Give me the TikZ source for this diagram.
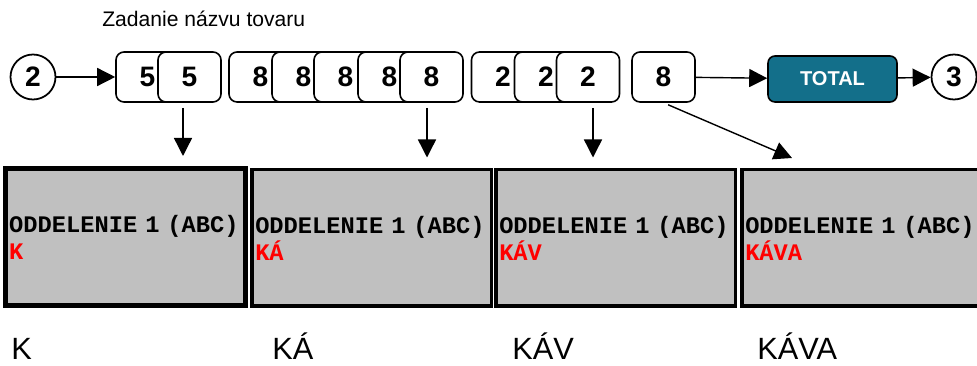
\documentclass[tikz,border=0pt]{standalone}
\usepackage{fontspec}
\setmainfont{Liberation Sans}
\setmonofont{Liberation Mono}
\usetikzlibrary{positioning, arrows.meta}
\definecolor{totalblue}{HTML}{136F8A}
\definecolor{panelgray}{HTML}{C0C0C0}

\begin{document}
\begin{tikzpicture}[x=0.2mm, y=-0.2mm,
	key/.style={draw, line width=0.9pt, rounded corners=0.16cm, fill=white, minimum width=1.26cm, minimum height=1cm, font=\bfseries\fontsize{16}{19}\selectfont},
	pagelink/.style={draw, circle, line width=1pt, fill=white, minimum size=0.9cm, inner sep=0pt, font=\bfseries\fontsize{16}{19}\selectfont},
	display/.style={draw, line width=0.07cm, fill=panelgray, minimum width=4.79cm, minimum height=2.73cm, text width=4.65cm, inner xsep=0.07cm, align=left, font=\ttfamily\bfseries\fontsize{13.5}{15.4}\selectfont},
	word/.style={anchor=base west, inner sep=0pt, font=\fontsize{17.5}{20}\selectfont},
	arr/.style={-{Triangle[length=0.36cm, width=0.36cm]}, line width=0.8pt}]
			\useasboundingbox (0,0) rectangle (977,366);
			\node (title) at (102,27) [anchor=base west, inner sep=0pt, font=\fontsize{12}{14}\selectfont] {Zadanie názvu tovaru};
			
			\node (c2) at (33,77) [pagelink] {2};
			\node (b5a) at (147.5,77) [key] {5};
			\node (b5b) at (189.5,77) [key] {5};
			\node (b8a) at (260.5,77) [key] {8};
			\node (b8b) at (303.5,77) [key] {8};
			\node (b8c) at (345.5,77) [key] {8};
			\node (b8d) at (389.5,77) [key] {8};
			\node (b8e) at (431.5,77) [key] {8};
			\node (b2a) at (503,77) [key] {2};
			\node (b2b) at (546,77) [key] {2};
			\node (b2c) at (588,77) [key] {2};
			\node (b8x) at (663.5,77) [key] {8};
			\node (total) at (832.5,79) [draw, line width=0.9pt, rounded corners=0.14cm, fill=totalblue, minimum width=2.58cm, minimum height=0.92cm, text=white, font=\bfseries\fontsize{11.4}{14}\selectfont] {TOTAL};
			\node (c3) at (954,77) [pagelink] {3};
			
			\node (p1) at (125.5,237) [display, line width=0.09cm] {ODDELENIE 1 (ABC)\\\textcolor{red}{K}};
			\node (p2) at (371.5,238) [display] {ODDELENIE 1 (ABC)\\\textcolor{red}{KÁ}};
			\node (p3) at (615.5,238) [display] {ODDELENIE 1 (ABC)\\\textcolor{red}{KÁV}};
			\node (p4) at (861.5,238) [display] {ODDELENIE 1 (ABC)\\\textcolor{red}{KÁVA}};
			\coordinate (t4) at (792,158);
			
			\node (w1) at (11,359) [word] {K};
			\node (w2) at (272,359) [word] {KÁ};
			\node (w3) at (512,359) [word] {KÁV};
			\node (w4) at (757,359) [word] {KÁVA};
			
			\draw[arr] (c2) -- (b5a);
			\draw[arr] (b8x) -- (total);
			\draw[arr] (total) -- (c3);
			\draw[arr, shorten <=0.1cm, shorten >=0.21cm] ([xshift=-0.13cm]b5b.south) -- ([xshift=-0.13cm]b5b.south |- p1.north);
			\draw[arr, shorten <=0.1cm, shorten >=0.21cm] ([xshift=-0.09cm]b8e.south) -- ([xshift=-0.09cm]b8e.south |- p2.north);
			\draw[arr, shorten <=0.1cm, shorten >=0.21cm] ([xshift=0.1cm]b2c.south) -- ([xshift=0.1cm]b2c.south |- p3.north);
			\draw[arr, shorten <=0.1cm] (b8x.south) -- (t4);
		\end{tikzpicture}
\end{document}
